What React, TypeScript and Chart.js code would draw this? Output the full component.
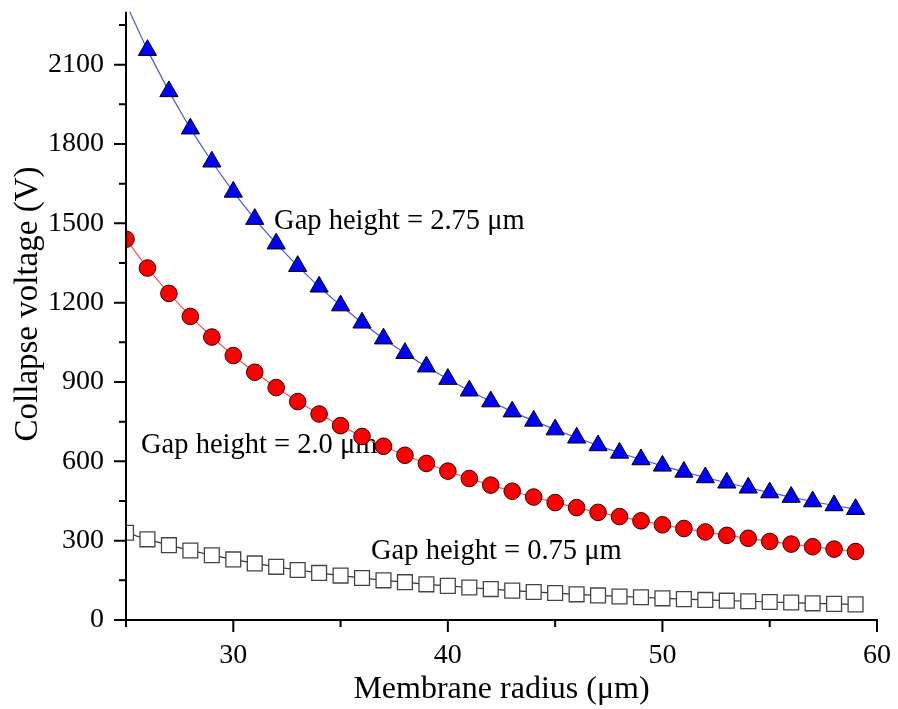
import React, { useEffect, useRef } from 'react';
import { Chart, registerables } from 'chart.js';

Chart.register(...registerables);

// Membrane radius (µm)
const radii = [25, 26, 27, 28, 29, 30, 31, 32, 33, 34, 35, 36, 37, 38, 39, 40, 41, 42, 43, 44, 45, 46, 47, 48, 49, 50, 51, 52, 53, 54, 55, 56, 57, 58, 59];

// Collapse voltage (V), gap height = 2.75 µm
const gap275 = [2331, 2155, 1999, 1858, 1733, 1619, 1516, 1423, 1338, 1260, 1189, 1124, 1064, 1009, 958, 911, 867, 826, 788, 753, 720, 689, 660, 632, 607, 583, 560, 539, 519, 500, 482, 465, 448, 433, 419];
// gap height = 2.0 µm
const gap200 = [1440, 1331, 1235, 1148, 1070, 1000, 937, 879, 826, 779, 735, 694, 657, 623, 592, 563, 535, 510, 487, 465, 444, 425, 407, 391, 375, 360, 346, 333, 320, 309, 297, 287, 277, 268, 259];
// gap height = 0.75 µm
const gap075 = [330, 305, 283, 263, 245, 229, 214, 201, 189, 178, 168, 159, 150, 143, 135, 129, 123, 117, 111, 106, 102, 97, 93, 89, 86, 82, 79, 76, 73, 71, 68, 66, 63, 61, 59];

const xMajorTicks = [30, 40, 50, 60];
const xMinorTicks = [25, 35, 45, 55];
const yMajorTicks = [0, 300, 600, 900, 1200, 1500, 1800, 2100];
const yMinorTicks = [150, 450, 750, 1050, 1350, 1650, 1950, 2250];

const annotationTexts = ['Gap height = 2.75 μm', 'Gap height = 2.0 μm', 'Gap height = 0.75 μm'];
const annotationX = [31.9, 25.7, 36.42];
const annotationY = [1477, 631, 229];

const yTitle = 'Collapse voltage (V)';
const xTitle = 'Membrane radius (μm)';

const FONT = "'Liberation Serif', 'Times New Roman', serif";

const decorPlugin = {
  id: 'decor',
  beforeDatasetsDraw(chart: any) {
    const { ctx, scales } = chart;
    const x = scales.x;
    const y = scales.y;
    ctx.save();
    ctx.font = `28.5px ${FONT}`;
    ctx.fillStyle = '#000';
    ctx.textAlign = 'left';
    ctx.textBaseline = 'alphabetic';
    annotationTexts.forEach((t, i) => {
      ctx.fillText(t, x.getPixelForValue(annotationX[i]), y.getPixelForValue(annotationY[i]));
    });
    ctx.restore();
  },
  afterDraw(chart: any) {
    const { ctx, chartArea, scales } = chart;
    const { left, right, top, bottom } = chartArea;
    const x = scales.x;
    const y = scales.y;
    ctx.save();
    ctx.strokeStyle = '#000';
    ctx.lineWidth = 2;
    ctx.beginPath();
    ctx.moveTo(left, top);
    ctx.lineTo(left, bottom + 1);
    ctx.moveTo(left - 1, bottom);
    ctx.lineTo(right + 1, bottom);
    ctx.stroke();
    ctx.beginPath();
    yMajorTicks.forEach((v) => {
      const p = y.getPixelForValue(v);
      ctx.moveTo(left - 12, p);
      ctx.lineTo(left, p);
    });
    yMinorTicks.forEach((v) => {
      const p = y.getPixelForValue(v);
      ctx.moveTo(left - 7, p);
      ctx.lineTo(left, p);
    });
    xMajorTicks.forEach((v) => {
      const p = x.getPixelForValue(v);
      ctx.moveTo(p, bottom);
      ctx.lineTo(p, bottom + 12);
    });
    xMinorTicks.forEach((v) => {
      const p = x.getPixelForValue(v);
      ctx.moveTo(p, bottom);
      ctx.lineTo(p, bottom + 7);
    });
    ctx.stroke();
    // y-axis title
    ctx.translate(28, 304);
    ctx.rotate(-Math.PI / 2);
    ctx.font = `33px ${FONT}`;
    ctx.fillStyle = '#000';
    ctx.textAlign = 'center';
    ctx.textBaseline = 'middle';
    ctx.fillText(yTitle, 0, 0);
    ctx.restore();
  },
};

export default function App() {
  const canvasRef = useRef<HTMLCanvasElement | null>(null);

  useEffect(() => {
    const canvas = canvasRef.current;
    if (!canvas) return;
    const chart = new Chart(canvas, {
      type: 'scatter',
      data: {
        datasets: [
          {
            label: 'Gap height = 2.75 μm',
            data: radii.map((r, i) => ({ x: r, y: gap275[i] })),
            showLine: true,
            borderColor: 'rgb(80,80,255)',
            borderWidth: 1.2,
            pointStyle: 'triangle',
            pointRadius: 10.5,
            pointBackgroundColor: '#0000ff',
            pointBorderColor: '#000',
            pointBorderWidth: 1,
            clip: 0,
          },
          {
            label: 'Gap height = 2.0 μm',
            data: radii.map((r, i) => ({ x: r, y: gap200[i] })),
            showLine: true,
            borderColor: 'rgb(255,80,80)',
            borderWidth: 1.2,
            pointStyle: 'circle',
            pointRadius: 8.3,
            pointBackgroundColor: '#ff0000',
            pointBorderColor: '#300',
            pointBorderWidth: 1,
            clip: 0,
          },
          {
            label: 'Gap height = 0.75 μm',
            data: radii.map((r, i) => ({ x: r, y: gap075[i] })),
            showLine: true,
            borderColor: '#333',
            borderWidth: 1.2,
            pointStyle: 'rect',
            pointRadius: 10.5,
            pointBackgroundColor: '#fff',
            pointBorderColor: '#444',
            pointBorderWidth: 1.3,
            clip: 0,
          },
        ],
      },
      options: {
        responsive: false,
        animation: false,
        events: [],
        layout: { padding: { top: 8, right: 21, left: 0, bottom: 0 } },
        plugins: {
          legend: { display: false },
          tooltip: { enabled: false },
        },
        scales: {
          x: {
            type: 'linear',
            min: 25,
            max: 60,
            grid: { display: false, drawTicks: false },
            border: { display: false },
            ticks: {
              stepSize: 10,
              padding: 19,
              color: '#000',
              font: { family: FONT, size: 28 },
              callback: (v: any) => (Number(v) % 10 === 0 ? String(v) : ''),
            },
            title: {
              display: true,
              text: xTitle,
              color: '#000',
              font: { family: FONT, size: 32 },
              padding: { top: 0, bottom: 0 },
            },
            afterFit: (scale: any) => {
              scale.height = 89;
              scale.paddingLeft = 0;
              scale.paddingRight = 0;
            },
          },
          y: {
            type: 'linear',
            min: 0,
            max: 2300,
            grid: { display: false, drawTicks: false },
            border: { display: false },
            ticks: {
              stepSize: 300,
              padding: 22,
              color: '#000',
              font: { family: FONT, size: 28 },
              callback: (v: any) => (Number(v) % 300 === 0 ? String(v) : ''),
            },
            title: { display: false },
            afterFit: (scale: any) => {
              scale.width = 126;
              scale.paddingTop = 0;
              scale.paddingBottom = 0;
            },
          },
        },
      },
      plugins: [decorPlugin],
    });
    return () => chart.destroy();
  }, []);

  return (
    <div style={{ position: 'absolute', left: 0, top: 0, width: 898, height: 709, background: '#fff' }}>
      <canvas ref={canvasRef} width={898} height={709} style={{ display: 'block' }} />
    </div>
  );
}
